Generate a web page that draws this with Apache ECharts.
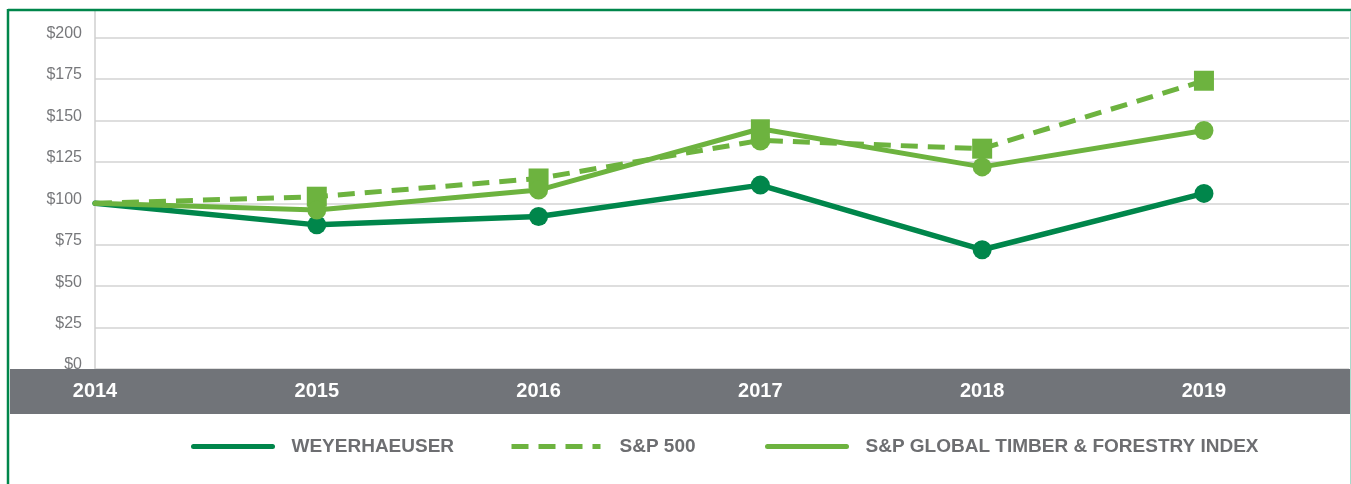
<!DOCTYPE html>
<html>
<head>
<meta charset="utf-8">
<script src="https://cdn.jsdelivr.net/npm/echarts@6/dist/echarts.min.js"></script>
<style>
  html, body { margin: 0; padding: 0; background: #fff; }
  #chart { width: 1351px; height: 484px; }
</style>
</head>
<body>
<div id="chart"></div>
<script>
// cumulative value of $100 invested at end of 2014
const years = [2014, 2015, 2016, 2017, 2018, 2019];
const weyerhaeuser = [100, 87, 92, 111, 72, 106];
const sp500 = [100, 104, 115, 138, 133, 174];
const timberIndex = [100, 96, 108, 145, 122, 144];
const yTicks = [0, 25, 50, 75, 100, 125, 150, 175, 200];

const DARK = '#00864b';
const LIGHT = '#6db33f';
const FONT = '"Liberation Sans", Arial, sans-serif';

// no marker on the base year; in the original art the 2017 markers of the
// two light green series are swapped (square on the index, circle on S&P)
function points(values, swapped) {
  return values.map(function (v, i) {
    const item = {value: [years[i], v]};
    if (i === 0) item.symbol = 'none';
    else if (years[i] === 2017 && swapped) item.symbol = swapped;
    return item;
  });
}

const chart = echarts.init(document.getElementById('chart'));

function legendAt(left, width, name, lineType) {
  return {
    orient: 'horizontal',
    left: left,
    top: 437,
    padding: 0,
    itemWidth: width,
    itemHeight: 6,
    itemGap: 0,
    selectedMode: false,
    itemStyle: {opacity: 0},
    lineStyle: {width: 5, type: lineType},
    textStyle: {
      color: '#6d6e71',
      fontFamily: FONT,
      fontWeight: 'bold',
      fontSize: 19,
      padding: [0, 0, 0, 14]
    },
    data: [name]
  };
}

chart.setOption({
  animation: false,
  grid: {left: 95, right: 2, top: 10, bottom: 115},
  legend: [
    legendAt(191, 79, 'WEYERHAEUSER', 'solid'),
    legendAt(509, 89, 'S&P 500', [17, 10]),
    legendAt(765, 79, 'S&P GLOBAL TIMBER & FORESTRY INDEX', 'solid')
  ],
  xAxis: {
    type: 'value',
    z: 20,
    min: years[0],
    max: 2019.654,
    interval: 1,
    axisLine: {show: false},
    axisTick: {show: false},
    splitLine: {show: false},
    axisLabel: {
      showMaxLabel: false,
      margin: 12,
      color: '#ffffff',
      fontFamily: FONT,
      fontWeight: 'bold',
      fontSize: 20,
      formatter: function (v) { return years.indexOf(v) >= 0 ? String(v) : ''; }
    }
  },
  yAxis: {
    type: 'value',
    min: yTicks[0],
    max: 216.7,
    interval: 25,
    axisLine: {show: true, lineStyle: {color: '#cfcfcf', width: 1.5}},
    axisTick: {show: false},
    splitLine: {lineStyle: {color: '#d3d3d3', width: 1.5}},
    axisLabel: {
      showMaxLabel: false,
      margin: 13,
      color: '#77787b',
      fontFamily: FONT,
      fontSize: 16,
      verticalAlign: 'bottom',
      lineHeight: 8,
      formatter: function (v) { return yTicks.indexOf(v) >= 0 ? '$' + v : ''; }
    }
  },
  graphic: [
    {
      type: 'rect', z: 1, silent: true,
      shape: {x: 10, y: 369, width: 1340, height: 45},
      style: {fill: '#717479'}
    },
    {
      type: 'line', z: 100, silent: true,
      shape: {x1: 8, y1: 9, x2: 8, y2: 484},
      style: {stroke: DARK, lineWidth: 2.5}
    },
    {
      type: 'line', z: 100, silent: true,
      shape: {x1: 8, y1: 10, x2: 1351, y2: 10},
      style: {stroke: DARK, lineWidth: 2.5}
    },
    {
      type: 'line', z: 100, silent: true,
      shape: {x1: 1350.5, y1: 11, x2: 1350.5, y2: 484},
      style: {stroke: '#a6dccc', lineWidth: 1}
    }
  ],
  series: [
    {
      name: 'WEYERHAEUSER',
      type: 'line',
      z: 3,
      data: points(weyerhaeuser),
      symbol: 'circle',
      symbolSize: 19,
      showAllSymbol: true,
      color: DARK,
      itemStyle: {color: DARK},
      lineStyle: {color: DARK, width: 5.5, cap: 'round', join: 'round'}
    },
    {
      name: 'S&P 500',
      type: 'line',
      z: 4,
      data: points(sp500, 'circle'),
      symbol: 'rect',
      symbolSize: 20,
      showAllSymbol: true,
      color: LIGHT,
      itemStyle: {color: LIGHT},
      lineStyle: {color: LIGHT, width: 5, type: [17, 10]}
    },
    {
      name: 'S&P GLOBAL TIMBER & FORESTRY INDEX',
      type: 'line',
      z: 5,
      data: points(timberIndex, 'rect'),
      symbol: 'circle',
      symbolSize: 19,
      showAllSymbol: true,
      color: LIGHT,
      itemStyle: {color: LIGHT},
      lineStyle: {color: LIGHT, width: 5, cap: 'round', join: 'round'}
    }
  ]
});
</script>
</body>
</html>
